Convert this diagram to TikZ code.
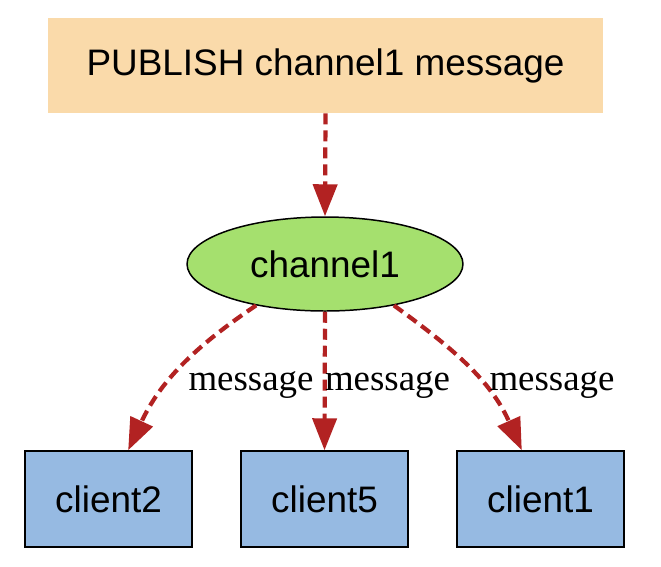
\documentclass[tikz,border=0pt]{standalone}
\usepackage{fontspec}
\setmainfont{Liberation Serif}
\setsansfont{Liberation Sans}
\usetikzlibrary{arrows.meta,shapes.geometric}

\definecolor{pubfill}{RGB}{250,218,170}
\definecolor{chanfill}{RGB}{165,224,110}
\definecolor{clientfill}{RGB}{150,186,226}
\definecolor{edgered}{RGB}{178,34,34}

\begin{document}
\begin{tikzpicture}[
x=0.02cm, y=0.02cm,
pubbox/.style={rectangle, fill=pubfill, minimum width=11.1cm, minimum height=1.9cm, font=\sffamily\fontsize{21}{25}\selectfont},
chan/.style={ellipse, draw, line width=0.85pt, fill=chanfill, inner sep=0pt, minimum width=5.52cm, minimum height=1.88cm, font=\sffamily\fontsize{21}{25}\selectfont},
client/.style={rectangle, draw, line width=0.85pt, fill=clientfill, minimum width=3.34cm, minimum height=1.92cm, font=\sffamily\fontsize{21}{25}\selectfont},
msglabel/.style={anchor=base, inner sep=0pt, font=\rmfamily\fontsize{21}{25}\selectfont},
arrow/.style={-{Triangle[length=0.64cm,width=0.48cm,fill=edgered]}, draw=edgered, line width=2.4pt, dash pattern=on 0.22cm off 0.12cm} ]

\useasboundingbox (0,0) rectangle (661,-566);

\node[pubbox](pub) at (325.5,-65.5) {PUBLISH channel1 message};

\node[chan](ch) at (325,-264) {channel1};

\node[client](c2) at (108.5,-499) {client2};

\node[client](c5) at (324.5,-499) {client5};

\node[client](c1) at (540.5,-499) {client1};

\draw[arrow] (pub.south) -- (ch.north);

\draw[arrow] (ch.211) to[out=214, in=65] (c2.68);

\draw[arrow] (ch.south) -- (c5.north);

\draw[arrow] (ch.329) to[out=-36, in=114] (c1.111);

\node[msglabel](m2) at (251,-390) {message};

\node[msglabel](m5) at (387.5,-390) {message};

\node[msglabel](m1) at (552,-390) {message};


\end{tikzpicture}
\end{document}
